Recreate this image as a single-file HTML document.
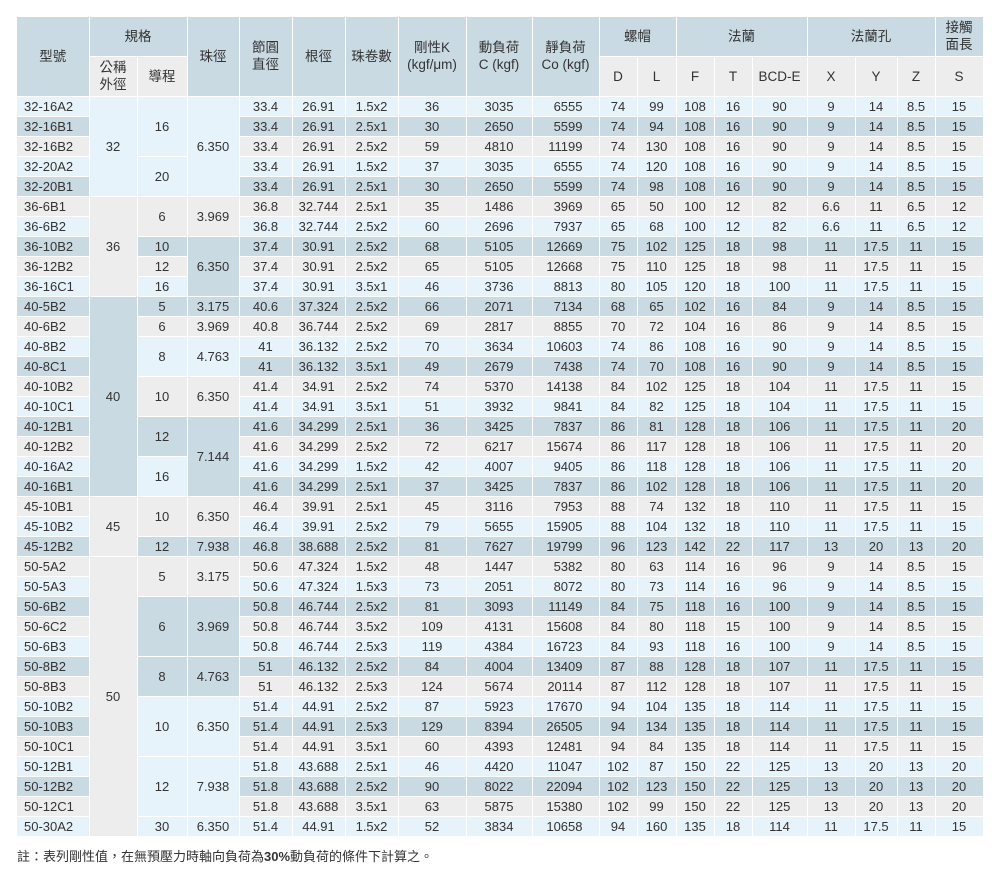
<!DOCTYPE html>
<html><head><meta charset="utf-8">
<style>
html,body{margin:0;padding:0;background:#fff;width:1002px;height:872px;overflow:hidden}
body{font-family:"Liberation Sans","Noto Sans CJK TC",sans-serif;color:#333;}
table{position:absolute;left:17px;top:17px;width:966px;border-collapse:collapse;table-layout:fixed;font-size:13px}
td,th{border-right:1px solid #fff;border-bottom:1px solid #fff;padding:0;text-align:center;white-space:nowrap;overflow:hidden}
th{font-weight:normal;font-size:13.5px;line-height:17px;background:#c9dae3;color:#333}
th.s{background:#ededee}
tr.h1{height:39px} tr.h2{height:40px}
tbody tr{height:20px}
tbody td{line-height:19px}
tr.a td{background:#e6f3fa} tr.b td{background:#c9dae3} tr.c td{background:#ededee}
td.a,tr td.a{background:#e6f3fa} td.b,tr td.b{background:#c9dae3} td.c,tr td.c{background:#ededee}
td.m{text-align:left;padding-left:7px}
td.r{text-align:right;padding-right:16px}
.note{position:absolute;left:17px;top:846px;font-size:13px;color:#333}
</style></head><body>
<table>
<colgroup><col style="width:72px"><col style="width:48px"><col style="width:50px"><col style="width:52px"><col style="width:53px"><col style="width:53px"><col style="width:53px"><col style="width:68px"><col style="width:66px"><col style="width:67px"><col style="width:38px"><col style="width:39px"><col style="width:38px"><col style="width:38px"><col style="width:55px"><col style="width:48px"><col style="width:42px"><col style="width:38px"><col style="width:48px"></colgroup>
<thead>
<tr class="h1"><th rowspan="2">型號</th><th colspan="2">規格</th><th rowspan="2">珠徑</th><th rowspan="2">節圓<br>直徑</th><th rowspan="2">根徑</th><th rowspan="2">珠卷數</th><th rowspan="2">剛性K<br>(kgf/μm)</th><th rowspan="2">動負荷<br>C (kgf)</th><th rowspan="2">靜負荷<br>Co (kgf)</th><th colspan="2">螺帽</th><th colspan="3">法蘭</th><th colspan="3">法蘭孔</th><th>接觸<br>面長</th></tr>
<tr class="h2"><th class="s">公稱<br>外徑</th><th class="s">導程</th><th class="s">D</th><th class="s">L</th><th class="s">F</th><th class="s">T</th><th class="s">BCD-E</th><th class="s">X</th><th class="s">Y</th><th class="s">Z</th><th class="s">S</th></tr>
</thead>
<tbody>
<tr class="a"><td class="m">32-16A2</td><td rowspan="5" class="a">32</td><td rowspan="3" class="a">16</td><td rowspan="5" class="a">6.350</td><td>33.4</td><td>26.91</td><td>1.5x2</td><td>36</td><td>3035</td><td class="r">6555</td><td>74</td><td>99</td><td>108</td><td>16</td><td>90</td><td>9</td><td>14</td><td>8.5</td><td>15</td></tr>
<tr class="b"><td class="m">32-16B1</td><td>33.4</td><td>26.91</td><td>2.5x1</td><td>30</td><td>2650</td><td class="r">5599</td><td>74</td><td>94</td><td>108</td><td>16</td><td>90</td><td>9</td><td>14</td><td>8.5</td><td>15</td></tr>
<tr class="c"><td class="m">32-16B2</td><td>33.4</td><td>26.91</td><td>2.5x2</td><td>59</td><td>4810</td><td class="r">11199</td><td>74</td><td>130</td><td>108</td><td>16</td><td>90</td><td>9</td><td>14</td><td>8.5</td><td>15</td></tr>
<tr class="a"><td class="m">32-20A2</td><td rowspan="2" class="a">20</td><td>33.4</td><td>26.91</td><td>1.5x2</td><td>37</td><td>3035</td><td class="r">6555</td><td>74</td><td>120</td><td>108</td><td>16</td><td>90</td><td>9</td><td>14</td><td>8.5</td><td>15</td></tr>
<tr class="b"><td class="m">32-20B1</td><td>33.4</td><td>26.91</td><td>2.5x1</td><td>30</td><td>2650</td><td class="r">5599</td><td>74</td><td>98</td><td>108</td><td>16</td><td>90</td><td>9</td><td>14</td><td>8.5</td><td>15</td></tr>
<tr class="c"><td class="m">36-6B1</td><td rowspan="5" class="c">36</td><td rowspan="2" class="c">6</td><td rowspan="2" class="c">3.969</td><td>36.8</td><td>32.744</td><td>2.5x1</td><td>35</td><td>1486</td><td class="r">3969</td><td>65</td><td>50</td><td>100</td><td>12</td><td>82</td><td>6.6</td><td>11</td><td>6.5</td><td>12</td></tr>
<tr class="a"><td class="m">36-6B2</td><td>36.8</td><td>32.744</td><td>2.5x2</td><td>60</td><td>2696</td><td class="r">7937</td><td>65</td><td>68</td><td>100</td><td>12</td><td>82</td><td>6.6</td><td>11</td><td>6.5</td><td>12</td></tr>
<tr class="b"><td class="m">36-10B2</td><td class="b">10</td><td rowspan="3" class="b">6.350</td><td>37.4</td><td>30.91</td><td>2.5x2</td><td>68</td><td>5105</td><td class="r">12669</td><td>75</td><td>102</td><td>125</td><td>18</td><td>98</td><td>11</td><td>17.5</td><td>11</td><td>15</td></tr>
<tr class="c"><td class="m">36-12B2</td><td class="c">12</td><td>37.4</td><td>30.91</td><td>2.5x2</td><td>65</td><td>5105</td><td class="r">12668</td><td>75</td><td>110</td><td>125</td><td>18</td><td>98</td><td>11</td><td>17.5</td><td>11</td><td>15</td></tr>
<tr class="a"><td class="m">36-16C1</td><td class="a">16</td><td>37.4</td><td>30.91</td><td>3.5x1</td><td>46</td><td>3736</td><td class="r">8813</td><td>80</td><td>105</td><td>120</td><td>18</td><td>100</td><td>11</td><td>17.5</td><td>11</td><td>15</td></tr>
<tr class="b"><td class="m">40-5B2</td><td rowspan="10" class="b">40</td><td class="b">5</td><td class="b">3.175</td><td>40.6</td><td>37.324</td><td>2.5x2</td><td>66</td><td>2071</td><td class="r">7134</td><td>68</td><td>65</td><td>102</td><td>16</td><td>84</td><td>9</td><td>14</td><td>8.5</td><td>15</td></tr>
<tr class="c"><td class="m">40-6B2</td><td class="c">6</td><td class="c">3.969</td><td>40.8</td><td>36.744</td><td>2.5x2</td><td>69</td><td>2817</td><td class="r">8855</td><td>70</td><td>72</td><td>104</td><td>16</td><td>86</td><td>9</td><td>14</td><td>8.5</td><td>15</td></tr>
<tr class="a"><td class="m">40-8B2</td><td rowspan="2" class="a">8</td><td rowspan="2" class="a">4.763</td><td>41</td><td>36.132</td><td>2.5x2</td><td>70</td><td>3634</td><td class="r">10603</td><td>74</td><td>86</td><td>108</td><td>16</td><td>90</td><td>9</td><td>14</td><td>8.5</td><td>15</td></tr>
<tr class="b"><td class="m">40-8C1</td><td>41</td><td>36.132</td><td>3.5x1</td><td>49</td><td>2679</td><td class="r">7438</td><td>74</td><td>70</td><td>108</td><td>16</td><td>90</td><td>9</td><td>14</td><td>8.5</td><td>15</td></tr>
<tr class="c"><td class="m">40-10B2</td><td rowspan="2" class="c">10</td><td rowspan="2" class="c">6.350</td><td>41.4</td><td>34.91</td><td>2.5x2</td><td>74</td><td>5370</td><td class="r">14138</td><td>84</td><td>102</td><td>125</td><td>18</td><td>104</td><td>11</td><td>17.5</td><td>11</td><td>15</td></tr>
<tr class="a"><td class="m">40-10C1</td><td>41.4</td><td>34.91</td><td>3.5x1</td><td>51</td><td>3932</td><td class="r">9841</td><td>84</td><td>82</td><td>125</td><td>18</td><td>104</td><td>11</td><td>17.5</td><td>11</td><td>15</td></tr>
<tr class="b"><td class="m">40-12B1</td><td rowspan="2" class="b">12</td><td rowspan="4" class="b">7.144</td><td>41.6</td><td>34.299</td><td>2.5x1</td><td>36</td><td>3425</td><td class="r">7837</td><td>86</td><td>81</td><td>128</td><td>18</td><td>106</td><td>11</td><td>17.5</td><td>11</td><td>20</td></tr>
<tr class="c"><td class="m">40-12B2</td><td>41.6</td><td>34.299</td><td>2.5x2</td><td>72</td><td>6217</td><td class="r">15674</td><td>86</td><td>117</td><td>128</td><td>18</td><td>106</td><td>11</td><td>17.5</td><td>11</td><td>20</td></tr>
<tr class="a"><td class="m">40-16A2</td><td rowspan="2" class="a">16</td><td>41.6</td><td>34.299</td><td>1.5x2</td><td>42</td><td>4007</td><td class="r">9405</td><td>86</td><td>118</td><td>128</td><td>18</td><td>106</td><td>11</td><td>17.5</td><td>11</td><td>20</td></tr>
<tr class="b"><td class="m">40-16B1</td><td>41.6</td><td>34.299</td><td>2.5x1</td><td>37</td><td>3425</td><td class="r">7837</td><td>86</td><td>102</td><td>128</td><td>18</td><td>106</td><td>11</td><td>17.5</td><td>11</td><td>20</td></tr>
<tr class="c"><td class="m">45-10B1</td><td rowspan="3" class="c">45</td><td rowspan="2" class="c">10</td><td rowspan="2" class="c">6.350</td><td>46.4</td><td>39.91</td><td>2.5x1</td><td>45</td><td>3116</td><td class="r">7953</td><td>88</td><td>74</td><td>132</td><td>18</td><td>110</td><td>11</td><td>17.5</td><td>11</td><td>15</td></tr>
<tr class="a"><td class="m">45-10B2</td><td>46.4</td><td>39.91</td><td>2.5x2</td><td>79</td><td>5655</td><td class="r">15905</td><td>88</td><td>104</td><td>132</td><td>18</td><td>110</td><td>11</td><td>17.5</td><td>11</td><td>15</td></tr>
<tr class="b"><td class="m">45-12B2</td><td class="b">12</td><td class="b">7.938</td><td>46.8</td><td>38.688</td><td>2.5x2</td><td>81</td><td>7627</td><td class="r">19799</td><td>96</td><td>123</td><td>142</td><td>22</td><td>117</td><td>13</td><td>20</td><td>13</td><td>20</td></tr>
<tr class="c"><td class="m">50-5A2</td><td rowspan="14" class="c">50</td><td rowspan="2" class="c">5</td><td rowspan="2" class="c">3.175</td><td>50.6</td><td>47.324</td><td>1.5x2</td><td>48</td><td>1447</td><td class="r">5382</td><td>80</td><td>63</td><td>114</td><td>16</td><td>96</td><td>9</td><td>14</td><td>8.5</td><td>15</td></tr>
<tr class="a"><td class="m">50-5A3</td><td>50.6</td><td>47.324</td><td>1.5x3</td><td>73</td><td>2051</td><td class="r">8072</td><td>80</td><td>73</td><td>114</td><td>16</td><td>96</td><td>9</td><td>14</td><td>8.5</td><td>15</td></tr>
<tr class="b"><td class="m">50-6B2</td><td rowspan="3" class="b">6</td><td rowspan="3" class="b">3.969</td><td>50.8</td><td>46.744</td><td>2.5x2</td><td>81</td><td>3093</td><td class="r">11149</td><td>84</td><td>75</td><td>118</td><td>16</td><td>100</td><td>9</td><td>14</td><td>8.5</td><td>15</td></tr>
<tr class="c"><td class="m">50-6C2</td><td>50.8</td><td>46.744</td><td>3.5x2</td><td>109</td><td>4131</td><td class="r">15608</td><td>84</td><td>80</td><td>118</td><td>15</td><td>100</td><td>9</td><td>14</td><td>8.5</td><td>15</td></tr>
<tr class="a"><td class="m">50-6B3</td><td>50.8</td><td>46.744</td><td>2.5x3</td><td>119</td><td>4384</td><td class="r">16723</td><td>84</td><td>93</td><td>118</td><td>16</td><td>100</td><td>9</td><td>14</td><td>8.5</td><td>15</td></tr>
<tr class="b"><td class="m">50-8B2</td><td rowspan="2" class="b">8</td><td rowspan="2" class="b">4.763</td><td>51</td><td>46.132</td><td>2.5x2</td><td>84</td><td>4004</td><td class="r">13409</td><td>87</td><td>88</td><td>128</td><td>18</td><td>107</td><td>11</td><td>17.5</td><td>11</td><td>15</td></tr>
<tr class="c"><td class="m">50-8B3</td><td>51</td><td>46.132</td><td>2.5x3</td><td>124</td><td>5674</td><td class="r">20114</td><td>87</td><td>112</td><td>128</td><td>18</td><td>107</td><td>11</td><td>17.5</td><td>11</td><td>15</td></tr>
<tr class="a"><td class="m">50-10B2</td><td rowspan="3" class="a">10</td><td rowspan="3" class="a">6.350</td><td>51.4</td><td>44.91</td><td>2.5x2</td><td>87</td><td>5923</td><td class="r">17670</td><td>94</td><td>104</td><td>135</td><td>18</td><td>114</td><td>11</td><td>17.5</td><td>11</td><td>15</td></tr>
<tr class="b"><td class="m">50-10B3</td><td>51.4</td><td>44.91</td><td>2.5x3</td><td>129</td><td>8394</td><td class="r">26505</td><td>94</td><td>134</td><td>135</td><td>18</td><td>114</td><td>11</td><td>17.5</td><td>11</td><td>15</td></tr>
<tr class="c"><td class="m">50-10C1</td><td>51.4</td><td>44.91</td><td>3.5x1</td><td>60</td><td>4393</td><td class="r">12481</td><td>94</td><td>84</td><td>135</td><td>18</td><td>114</td><td>11</td><td>17.5</td><td>11</td><td>15</td></tr>
<tr class="a"><td class="m">50-12B1</td><td rowspan="3" class="a">12</td><td rowspan="3" class="a">7.938</td><td>51.8</td><td>43.688</td><td>2.5x1</td><td>46</td><td>4420</td><td class="r">11047</td><td>102</td><td>87</td><td>150</td><td>22</td><td>125</td><td>13</td><td>20</td><td>13</td><td>20</td></tr>
<tr class="b"><td class="m">50-12B2</td><td>51.8</td><td>43.688</td><td>2.5x2</td><td>90</td><td>8022</td><td class="r">22094</td><td>102</td><td>123</td><td>150</td><td>22</td><td>125</td><td>13</td><td>20</td><td>13</td><td>20</td></tr>
<tr class="c"><td class="m">50-12C1</td><td>51.8</td><td>43.688</td><td>3.5x1</td><td>63</td><td>5875</td><td class="r">15380</td><td>102</td><td>99</td><td>150</td><td>22</td><td>125</td><td>13</td><td>20</td><td>13</td><td>20</td></tr>
<tr class="a"><td class="m">50-30A2</td><td class="a">30</td><td class="a">6.350</td><td>51.4</td><td>44.91</td><td>1.5x2</td><td>52</td><td>3834</td><td class="r">10658</td><td>94</td><td>160</td><td>135</td><td>18</td><td>114</td><td>11</td><td>17.5</td><td>11</td><td>15</td></tr>
</tbody>
</table>
<div class="note">註：表列剛性值，在無預壓力時軸向負荷為<b>30%</b>動負荷的條件下計算之。</div>
</body></html>
